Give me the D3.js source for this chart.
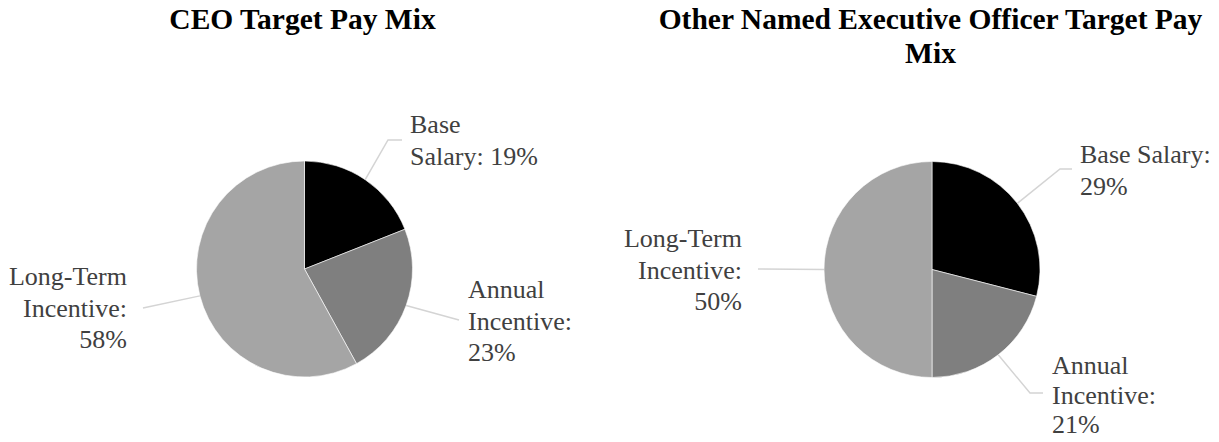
<!DOCTYPE html>
<html>
<head>
<meta charset="utf-8">
<script src="https://cdn.jsdelivr.net/npm/d3@7"></script>
<style>
  html, body { margin: 0; padding: 0; background: #fff; }
  svg { display: block; }
</style>
</head>
<body>
<script>
// data
const categories = ["Base Salary", "Annual Incentive", "Long-Term Incentive"];
const ceoValues = [19, 23, 58];
const neoValues = [29, 21, 50];
const sliceColors = ["#000000", "#7f7f7f", "#a5a5a5"];

const w = 1219, h = 442;
const radius = 108;
const lineGap = 31.5;
const serif = "'Liberation Serif', 'Times New Roman', serif";

// layout for each pie: label offsets from pie centre, word breaks, leader points
const charts = [
  {
    title: ["CEO Target Pay Mix"],
    values: ceoValues,
    cx: 304.5, cy: 269, titleX: 302.5,
    labels: [
      { dx: 105.5, dy: -136, anchor: "start", breaks: [1, 2], elbow: [83.5, -129], end: [97.5, -129] },
      { dx: 163.5, dy: 29, anchor: "start", breaks: [1, 1, 1], elbow: [154.5, 51], end: [154.5, 51] },
      { dx: -177.5, dy: 16, anchor: "end", breaks: [1, 1, 1], elbow: [-161.5, 39], end: [-161.5, 39] }
    ]
  },
  {
    title: ["Other Named Executive Officer Target Pay", "Mix"],
    values: neoValues,
    cx: 932, cy: 269.5, titleX: 930.5,
    labels: [
      { dx: 148, dy: -106.5, anchor: "start", breaks: [2, 1], elbow: [128, -100.5], end: [140, -100.5] },
      { dx: 120, dy: 104.5, gap: 29.5, anchor: "start", breaks: [1, 1, 1], elbow: [98, 123.5], end: [111, 123.5] },
      { dx: -190, dy: -22.5, anchor: "end", breaks: [1, 1, 1], elbow: [-174, -0.5], end: [-174, -0.5] }
    ]
  }
];

const svg = d3.select("body").append("svg")
    .attr("width", w)
    .attr("height", h);

const pie = d3.pie().sort(null).value(function (d) { return d; });
const arc = d3.arc().innerRadius(0).outerRadius(radius);
const edgeArc = d3.arc().innerRadius(radius).outerRadius(radius);

charts.forEach(function (c) {
    // title
    svg.append("text")
        .attr("x", c.titleX)
        .attr("y", 29)
        .attr("text-anchor", "middle")
        .style("font-family", serif)
        .style("font-weight", "bold")
        .style("font-size", "29.5px")
        .attr("fill", "#000")
        .selectAll("tspan")
        .data(c.title)
        .enter().append("tspan")
        .attr("x", c.titleX)
        .attr("dy", function (d, i) { return i === 0 ? 0 : 34; })
        .text(function (d) { return d; });

    const g = svg.append("g")
        .attr("transform", "translate(" + c.cx + "," + c.cy + ")");

    const arcs = pie(c.values);

    g.selectAll(".slice")
        .data(arcs)
        .enter().append("path")
        .attr("class", "slice")
        .attr("d", arc)
        .attr("fill", function (d, i) { return sliceColors[i]; })
        .attr("stroke", "#fff")
        .attr("stroke-width", 0.6);

    // leader lines
    g.selectAll(".leader")
        .data(arcs)
        .enter().append("polyline")
        .attr("class", "leader")
        .attr("points", function (d, i) {
            const p0 = edgeArc.centroid(d);
            const L = c.labels[i];
            return [p0, L.elbow, L.end].map(function (p) { return p.join(","); }).join(" ");
        })
        .attr("fill", "none")
        .attr("stroke", "#d4d4d4")
        .attr("stroke-width", 1.5);

    // labels
    const labels = g.selectAll(".label")
        .data(arcs)
        .enter().append("text")
        .attr("class", "label")
        .attr("text-anchor", function (d, i) { return c.labels[i].anchor; })
        .style("font-family", serif)
        .style("font-size", "26px")
        .attr("fill", "#404040");

    labels.each(function (d, i) {
        const L = c.labels[i];
        const gap = L.gap || lineGap;
        const words = (categories[i] + ": " + d.value + "%").split(" ");
        const lines = [];
        let k = 0;
        L.breaks.forEach(function (n) {
            lines.push(words.slice(k, k + n).join(" "));
            k += n;
        });
        d3.select(this).selectAll("tspan")
            .data(lines)
            .enter().append("tspan")
            .attr("x", L.dx)
            .attr("y", function (t, j) { return L.dy + j * gap; })
            .text(function (t) { return t; });
    });
});
</script>
</body>
</html>
